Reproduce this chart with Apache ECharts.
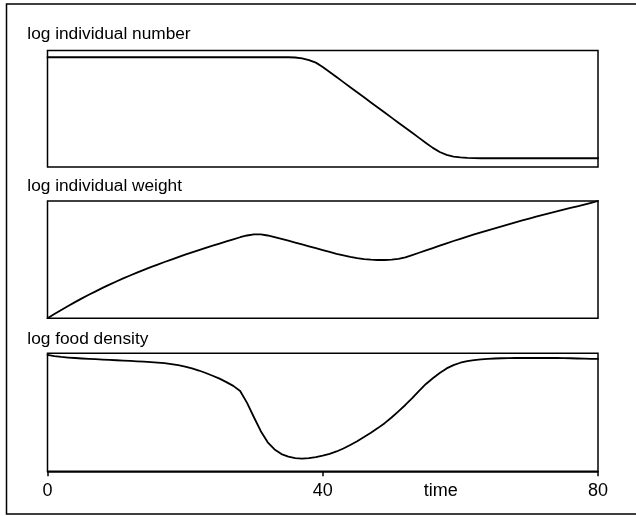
<!DOCTYPE html>
<html>
<head>
<meta charset="utf-8">
<script src="https://cdn.jsdelivr.net/npm/echarts@6/dist/echarts.min.js"></script>
<style>
html,body{margin:0;padding:0;background:#fff;}
#chart{width:636px;height:516px;}
</style>
</head>
<body>
<div id="chart"></div>
<script>
const time = [0,1,2,3,4,5,6,7,8,9,10,11,12,13,14,15,16,17,18,19,20,21,22,23,24,25,26,27,28,29,30,31,32,33,34,35,36,37,38,39,40,41,42,43,44,45,46,47,48,49,50,51,52,53,54,55,56,57,58,59,60,61,62,63,64,65,66,67,68,69,70,71,72,73,74,75,76,77,78,79,80];

const logNumber = [94.2,94.2,94.2,94.2,94.2,94.2,94.2,94.2,94.2,94.2,94.2,94.2,94.2,94.2,94.2,94.2,94.2,94.2,94.2,94.2,94.2,94.2,94.2,94.2,94.2,94.2,94.2,94.2,94.2,94.2,94.2,94.2,94.2,94.2,94.2,94.2,
  94.0,93.3,91.8,89.6,85.9,81.55,77.2,72.85,68.5,64.15,59.8,55.45,51.1,46.75,42.4,38.05,33.7,29.35,25.0,20.65,16.4,12.9,10.4,8.9,8.2,7.8,7.6,
  7.5,7.5,7.5,7.5,7.5,7.5,7.5,7.5,7.5,7.5,7.5,7.5,7.5,7.5,7.5,7.5,7.5,7.5];

const logWeight = [0,3.6,7.1,10.5,13.8,17.0,20.1,23.0,25.9,28.7,31.4,34.0,36.5,38.9,41.3,43.6,45.8,48.0,50.1,52.2,54.2,56.2,58.1,60.0,61.9,63.7,65.5,67.3,69.1,70.6,71.5,71.5,70.6,69.3,67.8,66.2,64.6,63.0,61.4,59.8,58.2,56.6,55.0,53.6,52.3,51.3,50.5,50.0,49.7,49.7,50.0,50.7,52.0,53.9,55.9,57.9,59.9,61.9,63.9,65.9,67.8,69.7,71.5,73.3,75.0,76.7,78.4,80.1,81.8,83.4,85.0,86.6,88.1,89.6,91.1,92.6,94.1,95.5,97.0,98.5,100];

const logFood = [98.6,97.6,96.9,96.4,96.0,95.6,95.3,95.0,94.7,94.4,94.1,93.8,93.5,93.2,92.9,92.5,92.1,91.6,90.9,90.0,88.8,87.3,85.4,83.3,81.0,78.5,75.6,72.4,68.0,58.0,45.8,34.0,24.6,18.5,14.6,12.5,11.2,10.8,11.2,12.1,13.2,14.8,16.8,19.3,22.3,25.5,29.0,32.7,36.6,40.8,45.6,50.8,56.2,62.0,68.2,74.0,78.8,83.3,87.2,90.0,92.0,93.3,94.2,94.8,95.3,95.6,95.8,95.9,96.0,96.0,96.0,96.0,96.0,96.0,96.0,95.9,95.8,95.6,95.5,95.3,95.2];

const panelTitles = ['log individual number', 'log individual weight', 'log food density'];
const xTicks = [0, 40, 80];
const xName = 'time';

const FONT = '"Liberation Sans", Arial, Helvetica, sans-serif';
const chart = echarts.init(document.getElementById('chart'), null, {renderer: 'canvas'});

const tops = [50.5, 201, 353.3];
const heights = [116.5, 117.3, 118];
const titleY = [34, 186, 339.5];

const grids = tops.map((t, i) => ({
  left: 47.5, width: 550.5, top: t, height: heights[i],
  show: true, borderColor: '#000', borderWidth: 1.5, backgroundColor: 'transparent'
}));

const xAxes = [0,1,2].map(i => ({
  type: 'value', gridIndex: i, min: 0, max: 80, interval: 40,
  show: i === 2,
  axisLine: {show: true, onZero: false, lineStyle: {color: '#000', width: 1.5}},
  axisTick: {show: true, inside: false, length: 5, lineStyle: {color: '#000', width: 1.5}},
  splitLine: {show: false},
  axisLabel: {show: true, margin: 11, color: '#000', fontSize: 18, fontFamily: FONT,
    formatter: v => xTicks.includes(v) ? String(v) : ''}
}));

const yAxes = [0,1,2].map(i => ({
  type: 'value', gridIndex: i, min: 0, max: 100, show: false, splitLine: {show: false}
}));

const seriesData = [logNumber, logWeight, logFood];
const series = seriesData.map((arr, i) => ({
  type: 'line', xAxisIndex: i, yAxisIndex: i,
  data: time.map((t, k) => [t, arr[k]]),
  showSymbol: false, symbol: 'none', smooth: false,
  lineStyle: {color: '#000', width: 1.8, join: 'round', cap: 'round'}, silent: true, animation: false
}));

const graphics = [
  {type: 'rect', shape: {x: 6.5, y: 4, width: 640, height: 510}, style: {fill: 'none', stroke: '#000', lineWidth: 1.5}, silent: true, z: 0}
];
panelTitles.forEach((s, i) => graphics.push({
  type: 'text', x: 27.3, y: titleY[i],
  style: {text: s, fill: '#000', font: '17.3px ' + FONT, textVerticalAlign: 'middle', verticalAlign: 'middle'}
}));
graphics.push({
  type: 'text', x: 440.8, y: 491,
  style: {text: xName, fill: '#000', font: '18px ' + FONT, textAlign: 'center', align: 'center', textVerticalAlign: 'middle', verticalAlign: 'middle'}
});

chart.setOption({
  animation: false,
  backgroundColor: '#fff',
  grid: grids,
  xAxis: xAxes,
  yAxis: yAxes,
  series: series,
  graphic: graphics
});
</script>
</body>
</html>
